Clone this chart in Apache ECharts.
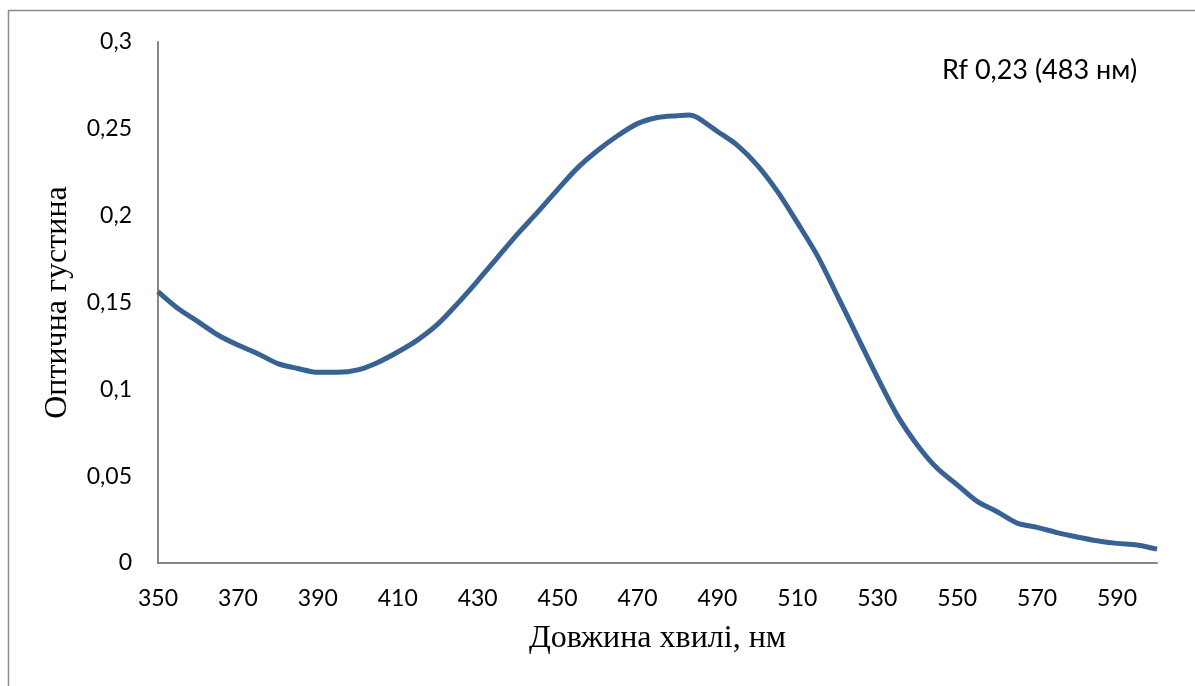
<!DOCTYPE html>
<html>
<head>
<meta charset="utf-8">
<script src="https://cdn.jsdelivr.net/npm/echarts@6/dist/echarts.min.js"></script>
<style>html,body{margin:0;padding:0;background:#fff}#c{width:1195px;height:686px}</style>
</head>
<body>
<div id="c"></div>
<script>
const wavelengths = [350,355,360,365,370,375,380,385,390,395,400,405,410,415,420,425,430,435,440,445,450,455,460,465,470,475,480,483,485,490,495,500,505,510,515,520,525,530,535,540,545,550,555,560,565,570,575,580,585,590,595,600];
const absorbance = [0.1562,0.1465,0.1390,0.1313,0.1255,0.1205,0.1148,0.1120,0.1098,0.1098,0.1112,0.1155,0.1215,0.1285,0.1375,0.1495,0.1625,0.1760,0.1895,0.2020,0.2150,0.2275,0.2375,0.2460,0.2530,0.2565,0.2576,0.2580,0.2565,0.2485,0.2405,0.2290,0.2140,0.1960,0.1770,0.1540,0.1305,0.1070,0.0850,0.0680,0.0545,0.0450,0.0355,0.0295,0.0230,0.0205,0.0175,0.0150,0.0128,0.0113,0.0104,0.0080];
const xTitle = 'Довжина хвилі, нм';
const yTitle = 'Оптична густина';
const annotation = 'Rf 0,23 (483 нм)';

const chart = echarts.init(document.getElementById('c'));
chart.setOption({
  animation: false,
  backgroundColor: '#fff',
  grid: {left: 158, right: 38, top: 42, bottom: 123},
  graphic: [
    {type: 'rect', shape: {x: 8.5, y: 10.5, width: 1200, height: 700}, style: {fill: 'none', stroke: '#8c8c8c', lineWidth: 1.5}, silent: true},
    {type: 'text', left: 942, top: 57, style: {text: annotation, font: '27px Lato, "Open Sans", sans-serif', fill: '#000'}}
  ],
  xAxis: {
    type: 'value', min: 350, max: 600, interval: 10,
    name: xTitle, nameLocation: 'middle', nameGap: 60,
    nameTextStyle: {fontFamily: '"Liberation Serif", serif', fontSize: 32, color: '#000'},
    axisLine: {show: true, onZero: false, lineStyle: {color: '#868686', width: 2}},
    axisTick: {show: false}, splitLine: {show: false},
    axisLabel: {margin: 24, fontFamily: 'Lato, "Open Sans", sans-serif', fontSize: 23, color: '#000',
      formatter: v => ((v - 350) % 20 === 0 && v < 600) ? String(v) : ''}
  },
  yAxis: {
    type: 'value', min: 0, max: 0.3, interval: 0.05,
    name: yTitle, nameLocation: 'middle', nameGap: 84,
    nameTextStyle: {fontFamily: '"Liberation Serif", serif', fontSize: 32, color: '#000'},
    axisLine: {show: true, lineStyle: {color: '#868686', width: 2}},
    axisTick: {show: false}, splitLine: {show: false},
    axisLabel: {margin: 26, fontFamily: 'Lato, "Open Sans", sans-serif', fontSize: 23, color: '#000',
      formatter: v => String(Math.round(v * 100) / 100).replace('.', ',')}
  },
  series: [{
    type: 'line', data: wavelengths.map((w, i) => [w, absorbance[i]]),
    showSymbol: false, smooth: 0.3,
    lineStyle: {color: '#386294', width: 5}
  }]
});
</script>
</body>
</html>
